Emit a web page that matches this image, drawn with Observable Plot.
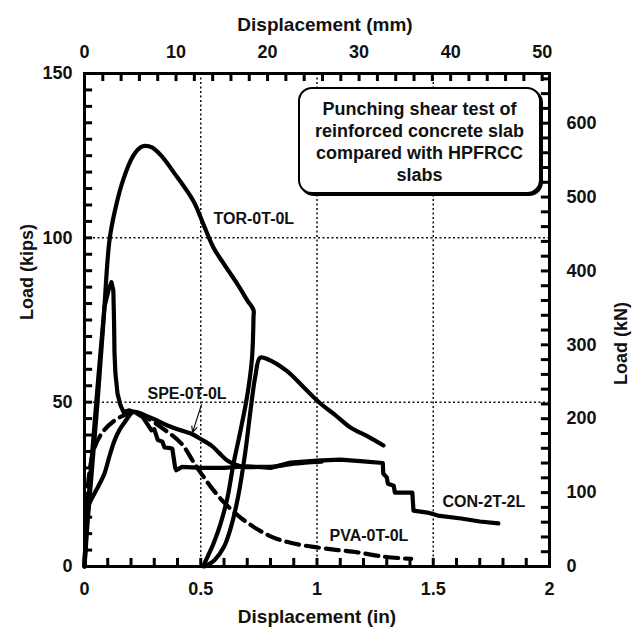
<!DOCTYPE html>
<html>
<head>
<meta charset="utf-8">
<script src="https://cdn.jsdelivr.net/npm/d3@7"></script>
<script src="https://cdn.jsdelivr.net/npm/@observablehq/plot@0.6"></script>
<style>
  body { margin: 0; background: #fff; }
  #wrap { position: relative; width: 634px; height: 637px; }
  #wrap svg { display: block; }
  #note {
    position: absolute; left: 298px; top: 87px; width: 243px; height: 107px;
    box-sizing: border-box; border: 2px solid #000; border-radius: 14px;
    box-shadow: 2px 2px 0 #000; background: #fff;
    font: bold 18px "Liberation Sans", Arial, sans-serif; line-height: 22px;
    text-align: center; padding-top: 9px; color: #111;
  }
</style>
</head>
<body>
<div id="wrap"></div>
<script>
// ---- data (displacement in inches, load in kips) ----
const TOR_x = [0, 0.015, 0.035, 0.056, 0.082, 0.107, 0.13, 0.168, 0.21, 0.24, 0.262, 0.29, 0.33, 0.383, 0.47, 0.512, 0.555, 0.6, 0.657, 0.7, 0.727, 0.727, 0.72, 0.70, 0.67, 0.64, 0.615, 0.585, 0.555, 0.53, 0.512, 0.53, 0.56, 0.6, 0.63, 0.66, 0.69, 0.715, 0.735, 0.755, 0.79, 0.87, 0.95, 1.015, 1.08, 1.144, 1.22, 1.286];
const TOR_y = [0, 15, 32, 50, 75, 99, 108, 118, 125, 127.5, 128, 127.5, 125, 120, 111, 104, 97, 92, 86, 81, 78, 76, 63, 52, 41, 31, 21, 13, 7, 3, 0, 0.5, 2, 6, 12, 21, 34, 48, 58, 63.5, 63, 59.5, 54, 49.6, 46, 42.3, 39.5, 36.8];

const CON_x = [0, 0.01, 0.03, 0.06, 0.086, 0.105, 0.116, 0.124, 0.127, 0.129, 0.133, 0.142, 0.155, 0.168, 0.19, 0.215, 0.25, 0.288, 0.30, 0.315, 0.335, 0.344, 0.37, 0.378, 0.39, 0.395, 0.42, 0.5, 0.6, 0.7, 0.8, 0.886, 1.0, 1.1, 1.2, 1.283, 1.285, 1.3, 1.305, 1.33, 1.335, 1.41, 1.415, 1.475, 1.52, 1.62, 1.70, 1.78];
const CON_y = [0, 14, 32, 58, 79, 84.5, 86.5, 84, 75, 65, 58.7, 52.6, 49, 47, 47.5, 47, 45.5, 41.4, 41.8, 38.5, 38, 36.2, 36, 35.8, 30, 29.3, 30.3, 30, 30, 30.5, 30, 31.6, 32.2, 32.5, 32, 31.5, 28.3, 27.1, 25.2, 24.6, 22.5, 22.5, 17, 16.4, 15.5, 14.6, 13.7, 13.1];

const SPE_x = [0, 0.008, 0.02, 0.043, 0.06, 0.086, 0.105, 0.129, 0.15, 0.172, 0.206, 0.225, 0.245, 0.3, 0.357, 0.41, 0.46, 0.5, 0.546, 0.58, 0.615, 0.675, 0.75, 0.83, 0.9, 0.95, 1.02];
const SPE_y = [0, 12, 19, 22.2, 24.5, 28.3, 33, 38.3, 41.5, 43.8, 46.9, 47, 46.5, 44.8, 42.9, 41.5, 40.4, 38.8, 36.8, 34.5, 32.2, 30.4, 30.3, 30.5, 31.3, 31.6, 31.9];

const PVA_x = [0, 0.008, 0.02, 0.043, 0.077, 0.129, 0.185, 0.215, 0.25, 0.331, 0.417, 0.473, 0.51, 0.546, 0.6, 0.671, 0.74, 0.813, 0.9, 1.0, 1.09, 1.174, 1.25, 1.3, 1.405];
const PVA_y = [0, 15, 28, 36.2, 40.8, 44.4, 46.5, 47, 46, 42.3, 37.4, 31.3, 27.5, 24, 19.5, 14.9, 11.5, 8.8, 7, 5.8, 5, 4.3, 3.4, 2.9, 2.3];

// ---- axes / ticks ----
const xLabelTicks = [0, 0.5, 1, 1.5, 2];          // inches
const xMinorTicks = d3.range(0, 2.0001, 0.1);      // inches
const yLabelTicks = [0, 50, 100, 150];             // kips
const yMinorTicks = d3.range(0, 150.001, 5);       // kips
const mmLabelTicks = [0, 10, 20, 30, 40, 50];      // mm
const mmMinorTicks = d3.range(0, 50.001, 2);       // mm
const kNLabelTicks = [0, 100, 200, 300, 400, 500, 600]; // kN
const kNMinorTicks = d3.range(0, 660.001, 20);     // kN
const gridX = [0.5, 1, 1.5];
const gridY = [50, 100];

// ---- labels ----
const labelText = ["TOR-0T-0L", "SPE-0T-0L", "CON-2T-2L", "PVA-0T-0L"];
const labelX = [0.555, 0.271, 1.54, 1.054];
const labelY = [105.9, 52.6, 19.8, 9.4];
const arrowFrom = [0.503, 49.2];
const arrowTo = [0.465, 40.8];

const MM = 25.4, KN = 4.448222;

function series(name, xs, ys) { return xs.map((x, i) => ({name, x, y: ys[i]})); }
const smooth = [
  ...series("TOR-0T-0L", TOR_x, TOR_y),
  ...series("SPE-0T-0L", SPE_x, SPE_y)
];
const stepped = series("CON-2T-2L", CON_x, CON_y);
const dashed = series("PVA-0T-0L", PVA_x, PVA_y);
const labels = labelText.map((t, i) => ({t, x: labelX[i], y: labelY[i]}));

const W = 634, H = 637, ML = 84, MR = 85, MT = 73, MB = 71;
const font = '"Liberation Sans", Arial, Helvetica, sans-serif';
const tk = {stroke: "#000", strokeWidth: 3};
// tick length expressed in scale units (~8 px)
const TKY = 2.45, TKX = 0.035;

const chart = Plot.plot({
  width: W, height: H,
  marginLeft: ML, marginRight: MR, marginTop: MT, marginBottom: MB,
  x: {domain: [0, 2]},
  y: {domain: [0, 150]},
  style: {fontFamily: font, fontWeight: "bold", fontSize: "18px", background: "#fff", color: "#111"},
  marks: [
    Plot.ruleX(gridX, {stroke: "#111", strokeWidth: 1.5, strokeDasharray: "2,2.5"}),
    Plot.ruleY(gridY, {stroke: "#111", strokeWidth: 1.5, strokeDasharray: "2,2.5"}),
    Plot.line(smooth, {x: "x", y: "y", z: "name", curve: "catmull-rom", stroke: "#000", strokeWidth: 4.2, strokeLinejoin: "round"}),
    Plot.line(stepped, {x: "x", y: "y", stroke: "#000", strokeWidth: 4.2, strokeLinejoin: "round"}),
    Plot.line(dashed, {x: "x", y: "y", curve: "catmull-rom", stroke: "#000", strokeWidth: 4.2, strokeDasharray: "13,7"}),
    // minor ticks (inward)
    Plot.ruleX(xMinorTicks, {x: d => d, y1: 0, y2: TKY, ...tk}),
    Plot.ruleX(mmMinorTicks, {x: d => d / MM, y1: 150, y2: 150 - TKY, ...tk}),
    Plot.ruleY(yMinorTicks, {y: d => d, x1: 0, x2: TKX, ...tk}),
    Plot.ruleY(kNMinorTicks.filter(d => d / KN <= 150), {y: d => d / KN, x1: 2, x2: 2 - TKX, ...tk}),
    // tick labels
    Plot.axisX({anchor: "bottom", ticks: xLabelTicks, tickSize: 0, tickPadding: 16, tickFormat: d => String(d), label: null, fontSize: 18}),
    Plot.axisX({anchor: "top", ticks: mmLabelTicks.map(d => d / MM), tickSize: 0, tickPadding: 16, tickFormat: d => String(Math.round(d * MM)), label: null, fontSize: 18}),
    Plot.axisY({anchor: "left", ticks: yLabelTicks, tickSize: 0, tickPadding: 12, tickFormat: d => String(d), label: null, fontSize: 18}),
    Plot.axisY({anchor: "right", ticks: kNLabelTicks.map(d => d / KN), tickSize: 0, tickPadding: 17, tickFormat: d => String(Math.round(d * KN)), label: null, fontSize: 18}),
    Plot.frame({stroke: "#000", strokeWidth: 3}),
    // axis titles
    Plot.text(["Displacement (in)"], {frameAnchor: "bottom", dy: 56, fontSize: 19, fontWeight: "bold"}),
    Plot.text(["Displacement (mm)"], {frameAnchor: "top", dy: -56, dx: 8, fontSize: 19, fontWeight: "bold"}),
    Plot.text(["Load (kips)"], {frameAnchor: "left", dx: -57, rotate: -90, fontSize: 18, fontWeight: "bold"}),
    Plot.text(["Load (kN)"], {frameAnchor: "right", dx: 72, dy: -18, rotate: -90, fontSize: 18, fontWeight: "bold"}),
    // series labels
    Plot.text(labels, {x: "x", y: "y", text: "t", textAnchor: "start", fontSize: 16, fontWeight: "bold", fill: "#111"}),
    Plot.arrow([{x1: arrowFrom[0], y1: arrowFrom[1], x2: arrowTo[0], y2: arrowTo[1]}], {x1: "x1", y1: "y1", x2: "x2", y2: "y2", stroke: "#111", strokeWidth: 1.2, headLength: 8, headAngle: 50})
  ]
});

const wrap = document.getElementById("wrap");
wrap.appendChild(chart);
const note = document.createElement("div");
note.id = "note";
note.innerHTML = "Punching shear test of<br>reinforced concrete slab<br>compared with HPFRCC<br>slabs";
wrap.appendChild(note);
</script>
</body>
</html>
